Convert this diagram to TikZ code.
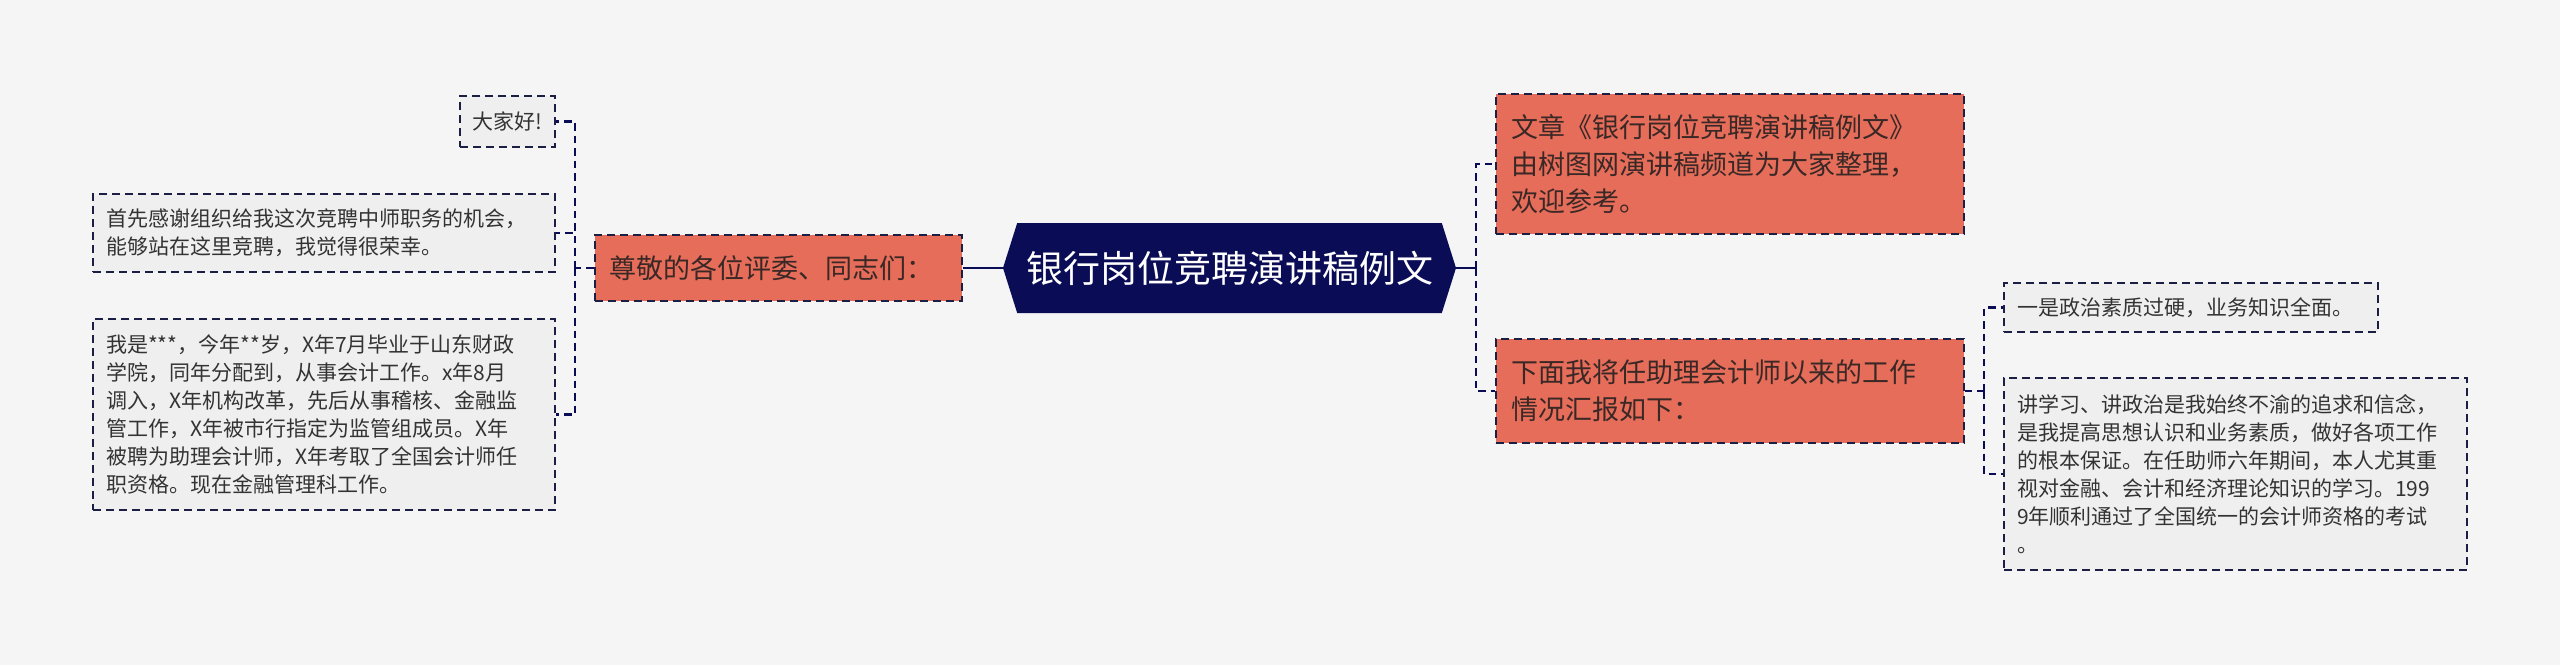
\documentclass[tikz,border=0pt]{standalone}
\usepackage{fontspec}
\setmainfont{Noto Sans CJK SC}
\usepackage{tikz}
\usetikzlibrary{positioning,shapes.symbols}

\definecolor{navy}{RGB}{10,13,86}
\definecolor{edgeblue}{RGB}{28,31,68}
\definecolor{salmon}{RGB}{229,109,89}
\definecolor{leaffill}{RGB}{239,239,239}
\definecolor{paper}{RGB}{245,245,245}
\definecolor{ink}{RGB}{51,51,51}
\definecolor{darkink}{RGB}{58,40,38}

\begin{document}
\begin{tikzpicture}[x=0.5pt,y=-0.5pt,
    leaf/.style={draw=edgeblue, line width=0.9pt, dash pattern=on 4pt off 2.5pt,
      fill=leaffill, text=ink, align=left, inner xsep=6.5pt, inner ysep=0pt,
      font=\fontsize{10.5}{14}\selectfont},
    branch/.style={draw=edgeblue, line width=0.9pt, dash pattern=on 4pt off 2.5pt,
      fill=salmon, text=darkink, align=left, inner xsep=7.5pt, inner ysep=0pt,
      font=\fontsize{13.5}{18.5}\selectfont},
    root/.style={signal, signal to=west and east, signal pointer angle=145,
      fill=navy, text=white, inner sep=0pt, minimum width=226.5pt,
      minimum height=45pt, font=\fontsize{18.5}{22}\selectfont},
    link/.style={draw=navy, line width=1.1pt, dash pattern=on 3.75pt off 2.5pt},
    trunk/.style={draw=navy, line width=1.2pt}]
  \fill[paper] (0,0) rectangle (2560,665);

  \node[root] (title) at (1229.5,268) {银行岗位竞聘演讲稿例文};
  \node[branch, text width=168.5pt, minimum height=33pt] (zun) [left=20pt of title] {尊敬的各位评委、同志们：};

  % left side
  \node[leaf, text width=35pt, inner xsep=6.25pt, minimum height=25.5pt] (hello) at (507.5,121.5) {大家好!};
  \node[leaf, text width=218pt, minimum height=39pt] (thanks) at (324,233)
    {首先感谢组织给我这次竞聘中师职务的机会，\\能够站在这里竞聘，我觉得很荣幸。};
  \node[leaf, text width=218pt, minimum height=95.5pt] (intro) at (324,414.5)
    {我是***，今年**岁，X年7月毕业于山东财政\\学院，同年分配到，从事会计工作。x年8月\\调入，X年机构改革，先后从事稽核、金融监\\管工作，X年被市行指定为监管组成员。X年\\被聘为助理会计师，X年考取了全国会计师任\\职资格。现在金融管理科工作。};

  % right side
  \node[branch, text width=219pt, minimum height=70pt] (art) at (1730,164)
    {文章《银行岗位竞聘演讲稿例文》\\由树图网演讲稿频道为大家整理，\\欢迎参考。};
  \node[branch, text width=219pt, minimum height=52pt] (work) at (1730,391)
    {下面我将任助理会计师以来的工作\\情况汇报如下：};
  \node[leaf, text width=174pt, minimum height=24.5pt] (one) at (2191,307.5)
    {一是政治素质过硬，业务知识全面。};
  \node[leaf, text width=218.5pt, minimum height=96pt] (study) at (2235.5,474)
    {讲学习、讲政治是我始终不渝的追求和信念，\\是我提高思想认识和业务素质，做好各项工作\\的根本保证。在任助师六年期间，本人尤其重\\视对金融、会计和经济理论知识的学习。199\\9年顺利通过了全国统一的会计师资格的考试\\。};

  \coordinate (lfork) at (575,268);
  \coordinate (rfork) at (1476,268);
  \coordinate (sfork) at (1984,391);

  \draw[trunk] (zun.east) -- (title.west);
  \draw[trunk] (title.east) -- (rfork);
  \draw[link] (zun.west) -- (lfork)
    (lfork) |- (hello.east)
    (lfork) |- (thanks.east)
    (lfork) |- (intro.east);
  \draw[link] (rfork) |- (art.west)
    (rfork) |- (work.west);
  \draw[link] (work.east) -- (sfork)
    (sfork) |- (one.west)
    (sfork) |- (study.west);
\end{tikzpicture}
\end{document}
